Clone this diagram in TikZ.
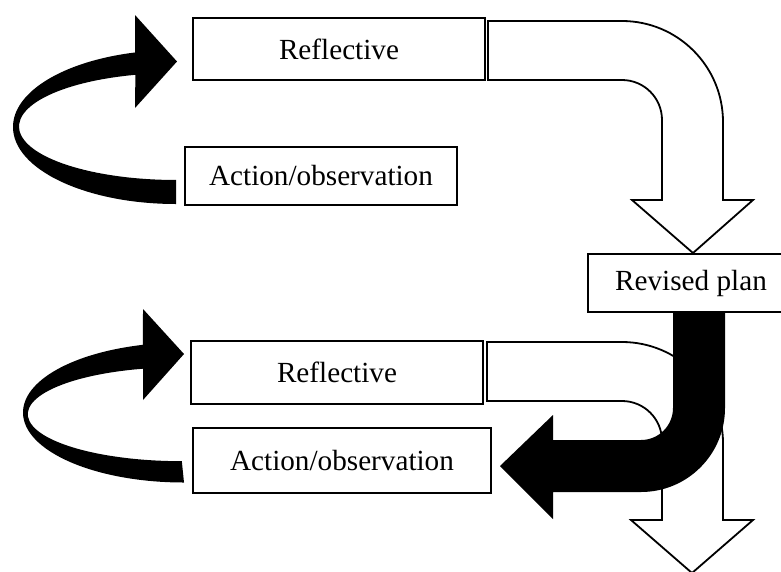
\documentclass[tikz,border=0pt]{standalone}
\usepackage{fontspec}
\setmainfont{Liberation Serif}
\begin{document}
\begin{tikzpicture}[x=1pt,y=-1pt,
  box/.style={draw=black,line width=2.2pt,fill=white,rectangle,inner sep=0pt,
    font=\fontsize{29.2}{35}\selectfont},
  whitearrow/.style={draw=black,line width=1.8pt,fill=white,line join=miter},
  blackarrow/.style={fill=black,draw=none}]
\useasboundingbox (0,0) rectangle (781,571);
\clip (0,0) rectangle (781,571);
% white bent arrow (top)
\draw[whitearrow] (488,21) -- (622,21) arc[start angle=-90,end angle=0,radius=101]
  -- (723,200) -- (753,200) -- (693,253) -- (632,200) -- (662,200) -- (662,120)
  arc[start angle=0,end angle=-90,radius=40] -- (488,80) -- cycle;
% white bent arrow (bottom)
\draw[whitearrow] (487,342) -- (622,342) arc[start angle=-90,end angle=0,radius=101]
  -- (723,520) -- (753,520) -- (692,573) -- (631,520) -- (662,520) -- (662,441)
  arc[start angle=0,end angle=-90,radius=40] -- (487,401) -- cycle;
% black J arrow from revised plan
\fill[blackarrow] (673,312) -- (673,408) arc[start angle=0,end angle=90,radius=32]
  -- (553,440) -- (553,415) -- (500,466) -- (553,519) -- (553,492) -- (641,492)
  arc[start angle=90,end angle=0,radius=84] -- (725,312) -- cycle;
% black curved arrow (top left)
\fill[blackarrow] (177,61.5) -- (135,108) -- (135.4,74.8)
  arc[start angle=255,end angle=90,x radius=157,y radius=53.5]
  -- (176,204) arc[start angle=90,end angle=255.5,x radius=163,y radius=77]
  -- (135,15) -- cycle;
% black curved arrow (bottom left)
\fill[blackarrow] (184,354) -- (143,400) -- (143,368.7)
  arc[start angle=255.4,end angle=90,x radius=154,y radius=47]
  -- (184,482.5) arc[start angle=90,end angle=255.24,x radius=161,y radius=70]
  -- (143,309) -- cycle;
% boxes
\node[box,minimum width=292,minimum height=62] (R1) at (339,49) {Reflective};
\node[box,minimum width=272,minimum height=58] (A1) at (321,176) {Action/observation};
\node[box,minimum width=206,minimum height=58] (RP) at (691,283) {Revised plan};
\node[box,minimum width=292,minimum height=63] (R2) at (337,372.5) {Reflective};
\node[box,minimum width=298,minimum height=65] (A2) at (342,460.5) {Action/observation};
\end{tikzpicture}
\end{document}
